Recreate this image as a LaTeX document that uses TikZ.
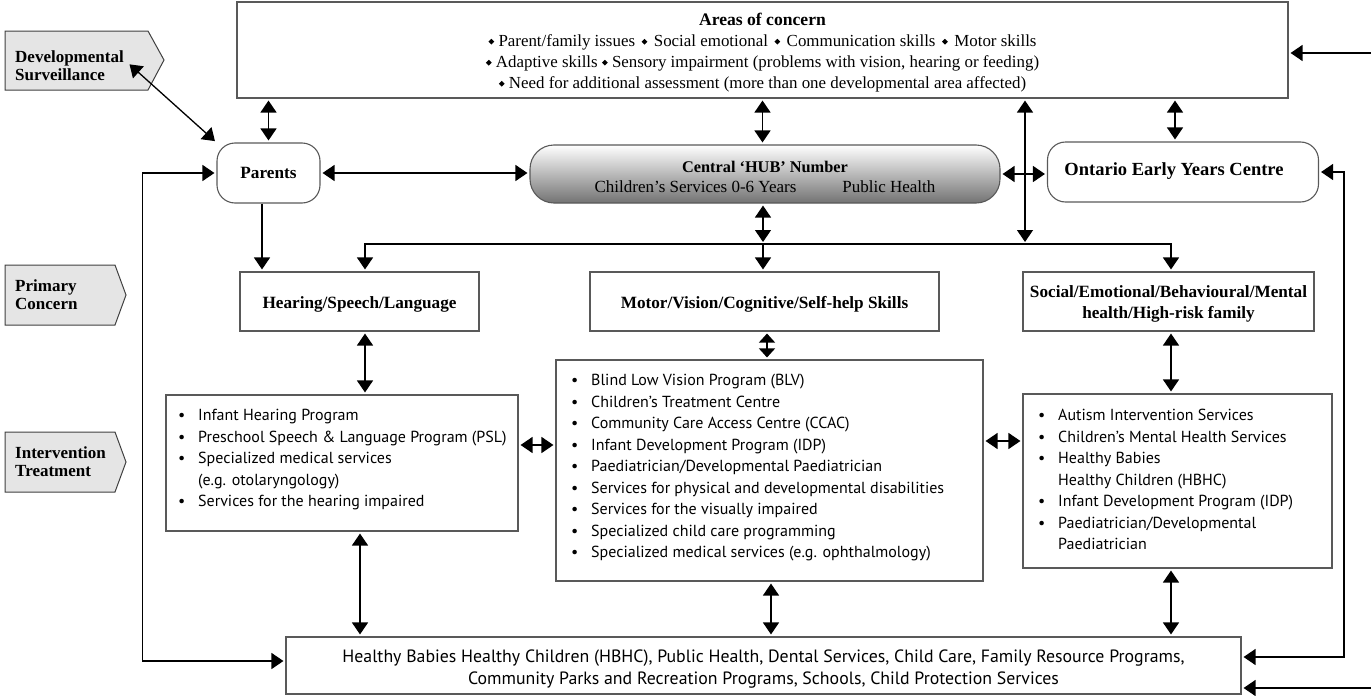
\documentclass[tikz,border=0pt]{standalone}
\usepackage{fontspec}
\usepackage{graphicx}
\setmainfont{Liberation Serif}
\newfontfamily\listfont{PT Sans}
\usetikzlibrary{arrows.meta,calc}
\newcommand{\dmd}{\raisebox{0.3ex}{\rotatebox{45}{\rule{4.1pt}{4.1pt}}}}
\newcommand{\dmx}{\hspace{6.5pt}\dmd\hspace{6.5pt}}
\newcommand{\bul}{\makebox[20pt][l]{\textbullet}}
\newcommand{\ind}{\hspace*{20pt}}
\begin{document}
\begin{tikzpicture}[x=1pt,y=-1pt,
  >={Triangle[width=16pt,length=12pt]},
  bx/.style={draw=black!65,line width=1.1pt,inner sep=0pt},
  rbx/.style={bx,rounded corners=18pt},
  hd/.style={font=\bfseries\fontsize{17.2}{21}\selectfont,align=center,inner sep=0pt},
  ser/.style={font=\fontsize{16.9}{21}\selectfont,align=center,inner sep=0pt},
  lst/.style={font=\listfont\fontsize{16}{21.5}\selectfont,align=left,inner sep=0pt},
  tag/.style={draw=black!75,line width=1pt,fill=black!10},
  tagtxt/.style={font=\bfseries\fontsize{17}{17.8}\selectfont,align=left,inner sep=0pt,anchor=west},
  ar/.style={line width=1.3pt,<->,shorten <=2pt,shorten >=2pt},
  ra/.style={line width=1.3pt,->,shorten >=2pt}]
\useasboundingbox (0,0) rectangle (1371,696);

% side tags
\draw[tag] (5,31)--(148,31)--(164,60)--(148,90)--(5,90)--cycle;
\node[tagtxt] (ds) at (15,65.5) {Developmental\\Surveillance};
\draw[tag] (5,265)--(115,265)--(126,295)--(115,325)--(5,325)--cycle;
\node[tagtxt] (pc) at (15,295) {Primary\\Concern};
\draw[tag] (5,432)--(115,432)--(126,462)--(115,492)--(5,492)--cycle;
\node[tagtxt] (it) at (15,461.5) {Intervention\\Treatment};

% top row
\node[bx,minimum width=1051pt,minimum height=96pt] (areas) at (762.5,50) {};
\node[ser] (areast) at ([yshift=-3pt]areas.center)
 {{\bfseries\fontsize{17.6}{21}\selectfont Areas of concern}\\
  \dmd{} Parent/family issues\dmx Social emotional\dmx Communication skills\dmx Motor skills\\
  \dmd{} Adaptive skills \dmd{} Sensory impairment (problems with vision, hearing or feeding)\\
  \dmd{} Need for additional assessment (more than one developmental area affected)};
\node[rbx,minimum width=103pt,minimum height=60pt,hd] (parents) at (268.5,173) {Parents};
\node[bx,rounded corners=24pt,minimum width=470pt,minimum height=58pt,top color=white,bottom color=black!55] (hub) at (765,174) {};
\node[align=center,inner sep=0pt,font=\fontsize{17}{20.5}\selectfont] (hubt) at ([yshift=-3pt]hub.center)
 {{\bfseries\fontsize{16.3}{20}\selectfont Central ‘HUB’ Number}\\Children’s Services 0-6 Years\hspace{46pt}Public Health};
\node[rbx,minimum width=271pt,minimum height=60pt] (oeyc) at (1183,172) {};
\node[hd,font=\bfseries\fontsize{18.5}{21}\selectfont] (oeyct) at ([xshift=-9pt,yshift=1pt]oeyc.center) {Ontario Early Years Centre};

% primary concern boxes
\node[bx,minimum width=239pt,minimum height=59pt] (hear) at (359.5,301.5) {};
\node[hd] (heart) at ([yshift=-2.5pt]hear.center) {Hearing/Speech/Language};
\node[bx,minimum width=349pt,minimum height=59pt] (mot) at (764.5,301.5) {};
\node[hd] (mott) at ([yshift=-2.5pt]mot.center) {Motor/Vision/Cognitive/Self-help Skills};
\node[bx,minimum width=291pt,minimum height=59pt] (soc) at (1168.5,301.5) {};
\node[hd] (soct) at ([yshift=-2.5pt]soc.center) {Social/Emotional/Behavioural/Mental\\health/High-risk family};

% lists
\node[bx,minimum width=352pt,minimum height=136pt] (hearl) at (342,463) {};
\node[lst,anchor=north west] (hearlt) at (178,409)
 {\bul Infant Hearing Program\\
  \bul Preschool Speech \& Language Program (PSL)\\
  \bul Specialized medical services\\
  \ind (e.g. otolaryngology)\\
  \bul Services for the hearing impaired};
\node[bx,minimum width=427pt,minimum height=221pt] (motl) at (769.5,470.5) {};
\node[lst,anchor=north west] (motlt) at (571,374)
 {\bul Blind Low Vision Program (BLV)\\
  \bul Children’s Treatment Centre\\
  \bul Community Care Access Centre (CCAC)\\
  \bul Infant Development Program (IDP)\\
  \bul Paediatrician/Developmental Paediatrician\\
  \bul Services for physical and developmental disabilities\\
  \bul Services for the visually impaired\\
  \bul Specialized child care programming\\
  \bul Specialized medical services (e.g. ophthalmology)};
\node[bx,minimum width=309pt,minimum height=174pt] (socl) at (1177.5,481) {};
\node[lst,anchor=north west] (soclt) at (1038,409)
 {\bul Autism Intervention Services\\
  \bul Children’s Mental Health Services\\
  \bul Healthy Babies\\
  \ind Healthy Children (HBHC)\\
  \bul Infant Development Program (IDP)\\
  \bul Paediatrician/Developmental\\
  \ind Paediatrician};

% bottom box
\node[bx,minimum width=955pt,minimum height=57pt] (hb) at (763.5,665.5) {};
\node[align=center,inner sep=0pt,font=\listfont\fontsize{17.8}{22}\selectfont] (hbt) at ([yshift=-4pt]hb.center)
 {Healthy Babies Healthy Children (HBHC), Public Health, Dental Services, Child Care, Family Resource Programs,\\
  Community Parks and Recreation Programs, Schools, Child Protection Services};

% connectors
\coordinate (dsend) at (128,63);
\draw[ar] (dsend) -- (parents.north west);
\draw[ar] (areas.south -| parents.north) -- (parents.north);
\draw[ar] (areas.south) -- (areas.south |- hub.north);
\draw[ar] ([xshift=-8pt]oeyc.north |- areas.south) -- ([xshift=-8pt]oeyc.north);
\draw[ar] (parents.east) -- (parents.east -| hub.west);
\draw[ar] (hub.east) -- (hub.east -| oeyc.west);
\coordinate (bus) at (763,244);
\coordinate (bus2) at (1025,244);
\draw[ar] (hub.south -| bus) -- (bus);
\draw[ar] (areas.south -| bus2) -- (bus2);
\draw[ra] (bus) -| ([xshift=5.5pt]hear.north);
\draw[ra] (bus) -| ([xshift=2.5pt]soc.north);
\draw[ra] (bus) -- (bus |- mot.north);
\draw[ra] ([xshift=-6.5pt]parents.south) -- ([xshift=-6.5pt]parents.south |- hear.north);
\draw[ar] (parents.west) -- ++(-74,0) |- ([yshift=4.5pt]hb.west);
\draw[ar] (oeyc.east) -- ++(25,0) |- ([yshift=8.5pt]hb.east);
\coordinate (in1) at (1371,53);
\coordinate (in2) at (1371,688);
\draw[ra] (in1) -- (in1 -| areas.east);
\draw[ra] (in2) -- (in2 -| hb.east);
\draw[ar] ([xshift=5.5pt]hear.south) -- ([xshift=5.5pt]hear.south |- hearl.north);
\draw[ar,{Triangle[width=16pt,length=9pt]}-{Triangle[width=16pt,length=9pt]}] ([xshift=2.5pt]mot.south) -- ([xshift=2.5pt]mot.south |- motl.north);
\draw[ar] ([xshift=2.5pt]soc.south) -- ([xshift=2.5pt]soc.south |- socl.north);
\draw[ar] (hearl.east |- 0,445) -- (motl.west |- 0,445);
\draw[ar] (motl.east |- 0,441) -- (socl.west |- 0,441);
\draw[ar] ([xshift=18pt]hearl.south) -- ([xshift=18pt]hearl.south |- hb.north);
\draw[ar] ([xshift=1.5pt]motl.south) -- ([xshift=1.5pt]motl.south |- hb.north);
\draw[ar] ([xshift=-6.5pt]socl.south) -- ([xshift=-6.5pt]socl.south |- hb.north);
\end{tikzpicture}
\end{document}
